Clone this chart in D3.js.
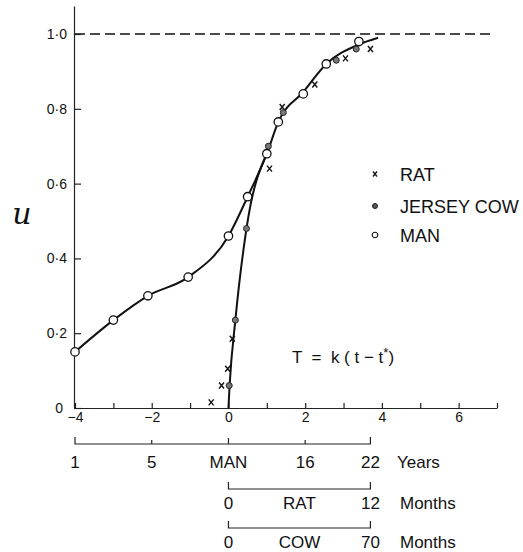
<!DOCTYPE html>
<html>
<head>
<meta charset="utf-8">
<script src="https://cdn.jsdelivr.net/npm/d3@7/dist/d3.min.js"></script>
<style>
  html, body { margin: 0; padding: 0; background: #fff; }
  svg { display: block; font-family: "Liberation Sans", Arial, sans-serif; }
  text { fill: #111; }
</style>
</head>
<body>
<svg id="chart" width="523" height="552"></svg>
<script>
// Maturity u against physiological time T = k(t - t*)
// data

const manT = [-4, -3, -2.1, -1.05, 0, 0.5, 1.0, 1.3, 1.95, 2.55, 3.4];
const manU = [0.15, 0.235, 0.30, 0.35, 0.46, 0.565, 0.68, 0.765, 0.84, 0.92, 0.98];

const cowT = [0.02, 0.18, 0.47, 1.04, 1.43, 2.81, 3.33];
const cowU = [0.06, 0.235, 0.48, 0.70, 0.79, 0.93, 0.96];

const ratT = [-0.45, -0.18, -0.02, 0.1, 1.07, 1.4, 2.25, 3.05, 3.7];
const ratU = [0.015, 0.06, 0.105, 0.185, 0.64, 0.805, 0.865, 0.935, 0.96];

// fitted curves (man curve carries on as the common curve)
const manFitT = [-4, -3, -2.1, -1.05, 0, 0.5, 1.0, 1.3, 1.95, 2.55, 3.4, 3.9];
const manFitU = [0.15, 0.235, 0.30, 0.35, 0.46, 0.565, 0.68, 0.765, 0.845, 0.92, 0.972, 0.99];
const steepFitT = [0, 0.03, 0.18, 0.47, 1.0];
const steepFitU = [0, 0.06, 0.235, 0.48, 0.68];

const xTicks = d3.range(-4, 8);
const yTicks = [0, 0.2, 0.4, 0.6, 0.8, 1.0];

// lower scales
const manYearsT = [-4, -2, 0, 2, 3.7];
const manYearsLabels = ["1", "5", "MAN", "16", "22"];
const ratMonths = [0, 12];
const cowMonths = [0, 70];

const legendItems = [
  { key: "rat", label: "RAT" },
  { key: "cow", label: "JERSEY COW" },
  { key: "man", label: "MAN" }
];

const svg = d3.select("#chart");

const x = d3.scaleLinear().domain([-4, 7]).range([75, 497]);
const y = d3.scaleLinear().domain([0, 1.075]).range([408, 6]);

// asymptote
svg.append("line")
  .attr("x1", x(-4)).attr("x2", x(6.9))
  .attr("y1", y(1)).attr("y2", y(1))
  .attr("stroke", "#111")
  .attr("stroke-width", 1.5)
  .attr("stroke-dasharray", "10,5");

// axes
const xAxis = d3.axisBottom(x)
  .tickValues(xTicks)
  .tickSizeInner(-5)
  .tickSizeOuter(0)
  .tickPadding(4)
  .tickFormat(d => d % 2 === 0 ? d3.format("d")(d) : "");

const gx = svg.append("g")
  .attr("transform", `translate(0,${y(0)})`)
  .call(xAxis);

const yAxis = d3.axisLeft(y)
  .tickValues(yTicks)
  .tickSizeInner(-7)
  .tickSizeOuter(0)
  .tickPadding(7)
  .tickFormat(d => d === 0 ? "0" : d.toFixed(1).replace(".", "·"));

const gy = svg.append("g")
  .attr("transform", `translate(${x(-4) - 1},0)`)
  .call(yAxis);

[gx, gy].forEach(g => {
  g.selectAll("path, line").attr("stroke", "#222").attr("stroke-width", 1.2);
  g.selectAll("text").attr("font-size", 14).attr("fill", "#111")
    .attr("font-family", "Liberation Sans, Arial, sans-serif");
});
gy.selectAll(".tick").filter(d => d === 0).select("text").attr("x", -11);

// y label
svg.append("text")
  .attr("x", 22).attr("y", 224)
  .attr("text-anchor", "middle")
  .attr("font-family", "DejaVu Serif, serif")
  .attr("font-style", "italic")
  .attr("font-size", 30)
  .text("u");

// curves
const line = d3.line()
  .x(d => x(d[0]))
  .y(d => y(d[1]))
  .curve(d3.curveMonotoneX);

svg.append("path")
  .datum(d3.zip(manFitT, manFitU))
  .attr("d", line)
  .attr("fill", "none")
  .attr("stroke", "#111")
  .attr("stroke-width", 2);

svg.append("path")
  .datum(d3.zip(steepFitT, steepFitU))
  .attr("d", line)
  .attr("fill", "none")
  .attr("stroke", "#111")
  .attr("stroke-width", 2);

// markers
const crossPath = "M-2.5,-3L2.5,3M2.5,-3L-2.5,3";

svg.append("g").selectAll("path")
  .data(d3.zip(ratT, ratU))
  .join("path")
    .attr("transform", d => `translate(${x(d[0])},${y(d[1])})`)
    .attr("d", crossPath)
    .attr("stroke", "#111")
    .attr("stroke-width", 1.4)
    .attr("fill", "none");

svg.append("g").selectAll("circle")
  .data(d3.zip(cowT, cowU))
  .join("circle")
    .attr("cx", d => x(d[0]))
    .attr("cy", d => y(d[1]))
    .attr("r", 3)
    .attr("fill", "#777")
    .attr("stroke", "#222")
    .attr("stroke-width", 1);

svg.append("g").selectAll("circle")
  .data(d3.zip(manT, manU))
  .join("circle")
    .attr("cx", d => x(d[0]))
    .attr("cy", d => y(d[1]))
    .attr("r", 4.2)
    .attr("fill", "#fff")
    .attr("stroke", "#111")
    .attr("stroke-width", 1.3);

// legend
const legend = svg.append("g").attr("transform", "translate(375,174)");
const lg = legend.selectAll("g")
  .data(legendItems)
  .join("g")
    .attr("transform", (d, i) => `translate(0,${[0, 32, 61][i]})`);

lg.filter(d => d.key === "rat").append("path")
  .attr("d", "M-2,-2.5L2,2.5M2,-2.5L-2,2.5")
  .attr("stroke", "#111").attr("stroke-width", 1.3);
lg.filter(d => d.key === "cow").append("circle")
  .attr("r", 2.5).attr("fill", "#555").attr("stroke", "#222");
lg.filter(d => d.key === "man").append("circle")
  .attr("r", 2.8).attr("fill", "#fff").attr("stroke", "#111").attr("stroke-width", 1.1);

lg.append("text")
  .attr("x", 25)
  .attr("y", 7)
  .attr("font-size", 18)
  .text(d => d.label);

// formula
const formula = svg.append("text")
  .attr("x", 292).attr("y", 363)
  .attr("font-size", 17)
  .style("white-space", "pre");
formula.append("tspan").text("T  =  k ( t − t");
formula.append("tspan").attr("dy", -6).attr("font-size", 13).text("*");
formula.append("tspan").attr("dy", 6).text(")");

// lower scales
function bracket(yLine, ends) {
  svg.append("path")
    .attr("d", `M${x(ends[0])},${yLine - 7}V${yLine}H${x(ends[1])}V${yLine - 7}`)
    .attr("fill", "none")
    .attr("stroke", "#222")
    .attr("stroke-width", 1.2);
}
function label(px, py, txt, anchor) {
  svg.append("text")
    .attr("x", px).attr("y", py)
    .attr("text-anchor", anchor || "middle")
    .attr("font-size", 17)
    .text(txt);
}

// man, years
bracket(444, [manYearsT[0], manYearsT[manYearsT.length - 1]]);
svg.append("g").selectAll("line")
  .data(manYearsT.slice(1, -1))
  .join("line")
    .attr("x1", d => x(d)).attr("x2", d => x(d))
    .attr("y1", 444).attr("y2", d => d === 0 ? 438 : 440)
    .attr("stroke", "#222").attr("stroke-width", 1.2);
manYearsT.forEach((t, i) => label(x(t), 468, manYearsLabels[i]));
label(397, 468, "Years", "start");

// rat, months
const ratScale = d3.scaleLinear().domain(ratMonths).range([0, 3.7]);
bracket(489, ratMonths.map(ratScale));
ratMonths.forEach(m => label(x(ratScale(m)), 509, String(m)));
label(x(d3.mean(ratMonths.map(ratScale))), 509, "RAT");
label(400, 509, "Months", "start");

// cow, months
const cowScale = d3.scaleLinear().domain(cowMonths).range([0, 3.7]);
bracket(528, cowMonths.map(cowScale));
cowMonths.forEach(m => label(x(cowScale(m)), 548, String(m)));
label(x(d3.mean(cowMonths.map(cowScale))), 548, "COW");
label(400, 548, "Months", "start");
</script>
</body>
</html>
